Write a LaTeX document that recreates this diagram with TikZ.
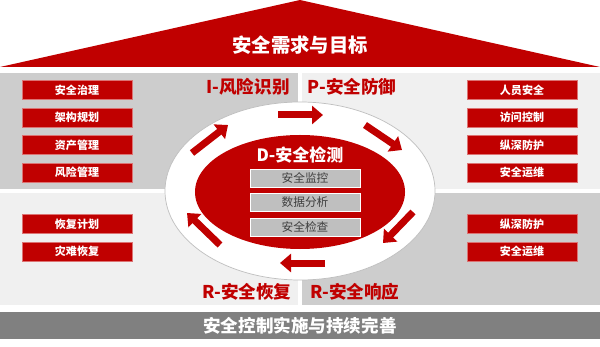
\documentclass[tikz,border=0pt]{standalone}
\usepackage{fontspec}
\setmainfont{Noto Sans CJK SC}
\usetikzlibrary{arrows.meta,positioning}
\definecolor{secred}{HTML}{C00000}
\definecolor{panelgray}{HTML}{CDCDCD}
\definecolor{panellight}{HTML}{F0F0F0}
\definecolor{bandgray}{HTML}{808080}
\definecolor{stepgray}{HTML}{BFBFBF}

\tikzset{
  redbox/.style={draw=secred!55, line width=0.4pt, fill=secred, text=white,
    minimum width=3.3cm, minimum height=0.57cm, inner sep=0pt,
    font=\fontsize{9.4}{11}\selectfont\bfseries},
  graybox/.style={draw=white, line width=0.4pt, fill=stepgray, text=black!75,
    minimum width=3.3cm, minimum height=0.54cm, inner sep=0pt,
    font=\fontsize{10}{12}\selectfont},
  phase/.style={text=secred, font=\fontsize{15}{18}\selectfont\bfseries},
  cyclearrow/.style={secred, line width=0.21cm,
    -{Triangle[width=0.54cm,length=0.33cm]}}
}

\begin{document}
\begin{tikzpicture}[x=0.03cm, y=-0.03cm]
  \useasboundingbox (0,0) rectangle (600,347);

  % roof and base
  \fill[secred] (0,67) -- (300,0) -- (600,67) -- cycle;
  \node[text=white, font=\fontsize{16.5}{20}\selectfont\bfseries] (goal) at (300,45) {安全需求与目标};
  \fill[bandgray] (0,312) rectangle (600,339);
  \node[text=white, font=\fontsize{15}{18}\selectfont\bfseries] (base) at (300,326) {安全控制实施与持续完善};

  % four panels
  \fill[panelgray]  (0,73)   rectangle (298,189);
  \fill[panellight] (302,73) rectangle (600,189);
  \fill[panellight] (0,193)  rectangle (298,305);
  \fill[panelgray]  (302,193) rectangle (600,305);

  % phase labels
  \node[phase] (ident)   at (248,87)  {I-风险识别};
  \node[phase] (protect) at (352,87)  {P-安全防御};
  \node[phase] (recover) at (247,292) {R-安全恢复};
  \node[phase] (respond) at (355,292) {R-安全响应};

  % centre ring
  \draw[fill=white, draw=black!25, line width=0.6pt] (300,191) ellipse [x radius=4.05cm, y radius=2.67cm];
  \fill[secred] (300,192) ellipse [x radius=3.15cm, y radius=1.71cm];
  \node[text=white, font=\fontsize{14.5}{17}\selectfont\bfseries] (detect) at (300,155) {D-安全检测};
  \node[graybox] (monitor) at (305,178) {安全监控};
  \node[graybox, below=0.18cm of monitor] (analyse) {数据分析};
  \node[graybox, below=0.18cm of analyse] (inspect) {安全检查};

  % cycle arrows
  \coordinate (a1s) at (192,153); \coordinate (a1e) at (228,125);
  \coordinate (a2s) at (278,115); \coordinate (a2e) at (323,115);
  \coordinate (a3s) at (365,125); \coordinate (a3e) at (402,150);
  \coordinate (a4s) at (413,212); \coordinate (a4e) at (383,243);
  \coordinate (a5s) at (325,263); \coordinate (a5e) at (280,263);
  \coordinate (a6s) at (220,245); \coordinate (a6e) at (187,213);
  \draw[cyclearrow] (a1s) -- (a1e);
  \draw[cyclearrow] (a2s) -- (a2e);
  \draw[cyclearrow] (a3s) -- (a3e);
  \draw[cyclearrow] (a4s) -- (a4e);
  \draw[cyclearrow] (a5s) -- (a5e);
  \draw[cyclearrow] (a6s) -- (a6e);

  % left column
  \node[redbox] (gov) at (77,90) {安全治理};
  \node[redbox, below=0.24cm of gov] (arch) {架构规划};
  \node[redbox, below=0.24cm of arch] (asset) {资产管理};
  \node[redbox, below=0.24cm of asset] (risk) {风险管理};
  \node[redbox] (plan) at (77,224) {恢复计划};
  \node[redbox, below=0.24cm of plan] (disaster) {灾难恢复};

  % right column
  \node[redbox] (staff) at (522,90) {人员安全};
  \node[redbox, below=0.24cm of staff] (access) {访问控制};
  \node[redbox, below=0.24cm of access] (depth) {纵深防护};
  \node[redbox, below=0.24cm of depth] (ops) {安全运维};
  \node[redbox] (depth2) at (522,224) {纵深防护};
  \node[redbox, below=0.24cm of depth2] (ops2) {安全运维};
\end{tikzpicture}
\end{document}
